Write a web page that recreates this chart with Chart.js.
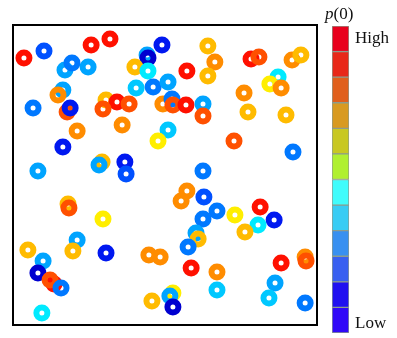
<!DOCTYPE html>
<html>
<head>
<meta charset="utf-8">
<script src="https://cdn.jsdelivr.net/npm/chart.js@4"></script>
<style>
  body { margin: 0; background: #fff; width: 397px; height: 338px; position: relative; overflow: hidden; }
  #scatter { position: absolute; left: 0; top: 0; }
  #colorbar { position: absolute; left: 332px; top: 26px; }
  .label { position: absolute; font-family: 'Liberation Serif', 'DejaVu Serif', serif; color: #111; font-size: 17px; line-height: 1; }
</style>
</head>
<body>
<canvas id="scatter" width="397" height="338"></canvas>
<canvas id="colorbar" width="17" height="307"></canvas>
<div class="label" id="title" style="left:325px; top:5px;"><i>p</i>(0)</div>
<div class="label" id="high" style="left:355px; top:29px;"></div>
<div class="label" id="low" style="left:355px; top:314px;"></div>
<script>
'use strict';

// positions of the particles (0-100 in both directions)
let xPositions = [
  3.6, 10.2, 25.7, 31.9, 49.0, 44.1, 44.4, 40.1, 44.4, 57.2,
  64.1, 66.4, 64.1, 78.3, 80.9, 91.8, 94.7, 87.2, 84.5, 88.2,
  76.0, 77.3, 89.8, 72.7, 92.1, 17.1, 19.4, 24.7, 16.4, 14.8,
  6.6, 17.8, 18.8, 30.6, 34.2, 29.6, 38.2, 40.5, 46.1, 51.0,
  49.3, 52.3, 52.6, 56.9, 62.5, 62.5, 21.1, 35.9, 51.0, 47.7,
  16.4, 8.2, 29.3, 28.3, 36.8, 37.2, 62.5, 57.2, 55.3, 62.8,
  67.1, 62.5, 73.0, 81.3, 85.9, 80.6, 76.3, 60.2, 60.9, 57.6,
  18.1, 18.4, 29.6, 21.1, 19.7, 30.6, 4.9, 9.9, 8.2, 13.5,
  12.2, 15.8, 9.5, 44.7, 48.4, 58.6, 67.1, 67.1, 88.2, 96.1,
  96.4, 86.2, 84.2, 96.1, 45.7, 52.6, 51.6, 52.6
];
let yPositions = [
  89.0, 91.3, 93.3, 95.3, 93.3, 90.0, 89.0, 86.0, 84.7, 84.7,
  93.0, 87.7, 83.0, 88.7, 89.3, 88.3, 90.0, 82.7, 80.3, 79.0,
  77.3, 71.0, 70.0, 61.3, 57.7, 85.0, 87.3, 86.0, 78.3, 76.7,
  72.3, 71.0, 72.3, 75.0, 74.3, 72.0, 73.7, 79.0, 79.3, 81.0,
  73.7, 75.3, 73.3, 73.3, 73.7, 69.7, 64.7, 66.7, 65.0, 61.3,
  59.3, 51.3, 54.3, 53.3, 54.3, 50.3, 51.3, 44.7, 41.3, 42.7,
  38.0, 35.3, 36.7, 39.3, 35.0, 33.3, 31.0, 30.7, 28.7, 26.0,
  40.3, 39.0, 35.3, 28.3, 24.7, 24.0, 25.0, 21.3, 17.3, 13.7,
  15.0, 12.3, 4.0, 23.3, 22.7, 19.0, 17.7, 11.7, 20.7, 22.7,
  21.3, 14.0, 9.0, 7.3, 8.0, 10.7, 9.7, 6.0
];
// p(0) level of each particle, 1 = low, 12 = high
let pLevels = [
  12, 3, 12, 12, 2, 5, 1, 9, 7, 12,
  9, 10, 9, 12, 11, 10, 9, 7, 8, 10,
  10, 9, 9, 11, 4, 5, 4, 5, 5, 10,
  4, 11, 2, 9, 12, 11, 11, 6, 4, 5,
  10, 4, 11, 12, 5, 11, 10, 10, 6, 8,
  2, 5, 9, 5, 2, 3, 4, 10, 10, 3,
  4, 4, 8, 12, 2, 7, 9, 5, 9, 4,
  9, 11, 8, 5, 9, 2, 9, 5, 1, 12,
  11, 4, 7, 10, 10, 12, 10, 6, 12, 10,
  11, 5, 6, 4, 9, 8, 5, 1
];

// colours of the rings, low to high
let ringColors = ['#0000d0', '#0018f0', '#0050ff', '#0078ff', '#00a4ff', '#00c8ff',
  '#00eaff', '#ffee00', '#ffbb00', '#ff8c00', '#ff5000', '#ff1000'];

// colour bar, low to high
let barColors = ['#3008f8', '#2010f0', '#3860f0', '#3890f0', '#38ccf4', '#40fcfc',
  '#b0f030', '#c8c822', '#d89a20', '#e0601c', '#e82818', '#e8001c'];
let barLabels = ['Low', 'High'];

document.getElementById('low').textContent = barLabels[0];
document.getElementById('high').textContent = barLabels[1];

let points = [];
for (let i = 0; i < xPositions.length; i++) {
  points.push({ x: xPositions[i], y: yPositions[i] });
}

// black frame round the plot area
let framePlugin = {
  id: 'frame',
  beforeDatasetsDraw(chart) {
    let ctx = chart.ctx;
    let area = chart.chartArea;
    ctx.save();
    ctx.strokeStyle = '#000';
    ctx.lineWidth = 2;
    ctx.strokeRect(area.left, area.top, area.right - area.left, area.bottom - area.top);
    ctx.restore();
  }
};

new Chart(document.getElementById('scatter'), {
  type: 'scatter',
  data: {
    datasets: [{
      data: points,
      pointRadius: 5.5,
      pointHoverRadius: 5.5,
      pointBorderWidth: 6,
      pointBackgroundColor: 'rgba(0,0,0,0)',
      pointBorderColor: pLevels.map(l => ringColors[l - 1])
    }]
  },
  options: {
    responsive: false,
    animation: false,
    events: [],
    layout: { padding: { left: 13, top: 25, right: 80, bottom: 13 } },
    scales: {
      x: { display: false, min: 0, max: 100 },
      y: { display: false, min: 0, max: 100 }
    },
    plugins: { legend: { display: false }, tooltip: { enabled: false } }
  },
  plugins: [framePlugin]
});

// colour bar as one stacked bar
let barDatasets = [];
for (let i = 0; i < barColors.length; i++) {
  barDatasets.push({
    data: [1],
    backgroundColor: barColors[i],
    borderColor: '#8d9c8d',
    borderWidth: 1,
    borderSkipped: false,
    barPercentage: 1,
    categoryPercentage: 1
  });
}

new Chart(document.getElementById('colorbar'), {
  type: 'bar',
  data: { labels: ['p0'], datasets: barDatasets },
  options: {
    responsive: false,
    animation: false,
    events: [],
    layout: { padding: 0 },
    scales: {
      x: { display: false, stacked: true },
      y: { display: false, stacked: true, min: 0, max: barColors.length }
    },
    plugins: { legend: { display: false }, tooltip: { enabled: false } }
  }
});
</script>
</body>
</html>
